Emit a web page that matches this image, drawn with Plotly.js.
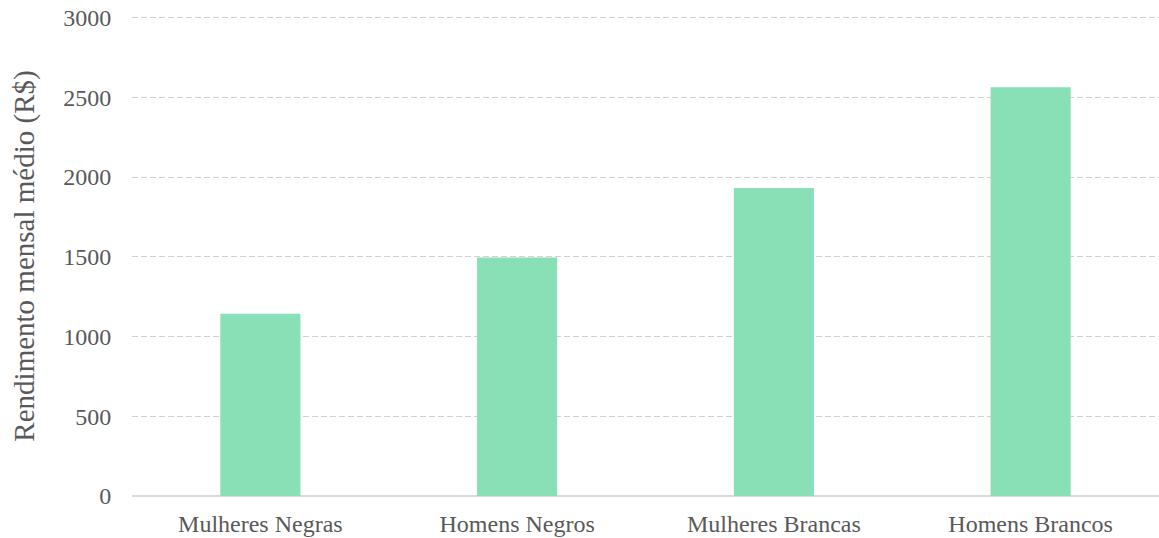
<!DOCTYPE html>
<html>
<head>
<meta charset="utf-8">
<script src="https://cdn.plot.ly/plotly-3.0.1.min.js"></script>
<style>
  html, body { margin: 0; padding: 0; background: #fff; }
  #chart { width: 1159px; height: 538px; }
</style>
</head>
<body>
<div id="chart"></div>
<script>
// Rendimento mensal médio por grupo (R$)
const categories = ["Mulheres Negras", "Homens Negros", "Mulheres Brancas", "Homens Brancos"];
const rendimento = [1143, 1496, 1932, 2563];
const yTicks = [0, 500, 1000, 1500, 2000, 2500, 3000];

const textColor = "#595959";
const fontFamily = "'Liberation Serif', 'Times New Roman', serif";

const trace = {
  type: "bar",
  x: categories,
  y: rendimento,
  marker: { color: "#8ae0b6", line: { width: 0 } },
  hoverinfo: "x+y"
};

const layout = {
  width: 1159,
  height: 538,
  margin: { l: 132, r: 0, t: 16, b: 42, pad: 0 },
  paper_bgcolor: "#ffffff",
  plot_bgcolor: "#ffffff",
  bargap: 0.688,
  showlegend: false,
  font: { family: fontFamily, size: 24, color: textColor },
  xaxis: {
    type: "category",
    range: [-0.5, 3.5],
    showgrid: false,
    zeroline: false,
    showline: false,
    ticks: "outside",
    ticklen: 6,
    tickcolor: "rgba(0,0,0,0)",
    tickfont: { family: fontFamily, size: 24, color: textColor },
    fixedrange: true
  },
  yaxis: {
    range: [0, 3010],
    tickvals: yTicks,
    ticktext: yTicks.map(String),
    showgrid: true,
    gridcolor: "#d2d2d2",
    gridwidth: 1,
    griddash: "6px,3px",
    zeroline: true,
    zerolinecolor: "#d9d9d9",
    zerolinewidth: 2,
    showline: false,
    ticks: "outside",
    ticklen: 15,
    tickcolor: "rgba(0,0,0,0)",
    tickfont: { family: fontFamily, size: 24, color: textColor },
    title: {
      text: "Rendimento mensal médio (R$)",
      font: { family: fontFamily, size: 29, color: textColor },
      standoff: 20
    },
    automargin: false,
    fixedrange: true
  }
};

Plotly.newPlot("chart", [trace], layout, { displayModeBar: false, staticPlot: true });
</script>
</body>
</html>
